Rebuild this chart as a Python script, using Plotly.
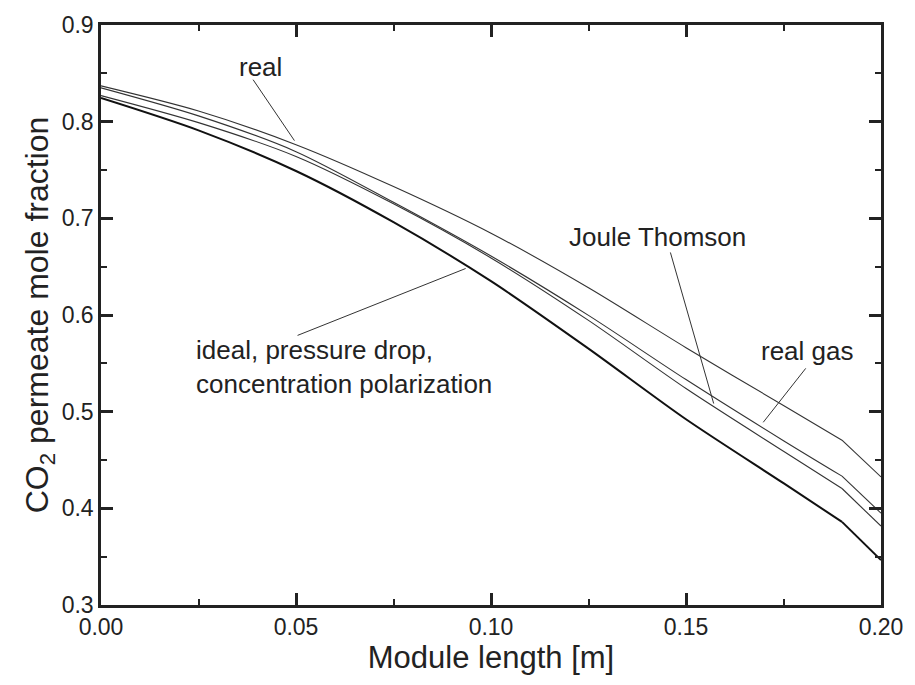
import plotly.graph_objects as go

# Module length [m]
x_len = [0.0, 0.025, 0.05, 0.075, 0.10, 0.125, 0.15, 0.175, 0.19, 0.20]

# CO2 permeate mole fraction
y_real = [0.837, 0.811, 0.7762, 0.7329, 0.6846, 0.6282, 0.5662, 0.5064, 0.4705, 0.4325]
y_real_gas = [0.835, 0.806, 0.769, 0.7166, 0.661, 0.5996, 0.5332, 0.470, 0.4333, 0.395]
y_joule = [0.827, 0.799, 0.764, 0.715, 0.659, 0.5944, 0.5239, 0.459, 0.4205, 0.3816]
y_ideal = [0.8245, 0.791, 0.749, 0.696, 0.635, 0.5652, 0.4921, 0.426, 0.386, 0.3465]

x_ticks = [0.0, 0.05, 0.10, 0.15, 0.20]
x_tick_text = ["0.00", "0.05", "0.10", "0.15", "0.20"]
y_ticks = [0.3, 0.4, 0.5, 0.6, 0.7, 0.8, 0.9]
y_tick_text = ["0.3", "0.4", "0.5", "0.6", "0.7", "0.8", "0.9"]

KINK = 8  # index of the sharp bend near the module outlet

FONT = "Liberation Sans, Arial, sans-serif"
INK = "#222222"

fig = go.Figure()
for ys, w, c in [(y_real, 1.1, "#333333"), (y_real_gas, 1.1, "#333333"),
                 (y_joule, 1.1, "#333333"), (y_ideal, 2.0, "#111111")]:
    # smooth body up to the bend, straight segment after it
    fig.add_trace(go.Scatter(x=x_len[:KINK + 1], y=ys[:KINK + 1], mode="lines",
                             line=dict(color=c, width=w, shape="spline", smoothing=0.8),
                             showlegend=False, hoverinfo="skip"))
    fig.add_trace(go.Scatter(x=x_len[KINK:], y=ys[KINK:], mode="lines",
                             line=dict(color=c, width=w),
                             showlegend=False, hoverinfo="skip"))

labels = [
    dict(text="real", x=0.0408, y=0.8568, xanchor="center"),
    dict(text="Joule Thomson", x=0.1427, y=0.6812, xanchor="center"),
    dict(text="real gas", x=0.1688, y=0.5624, xanchor="left"),
    dict(text="ideal, pressure drop,<br>concentration polarization", x=0.0238,
         y=0.5459, xanchor="left", align="left"),
]
for a in labels:
    fig.add_annotation(showarrow=False, xref="x", yref="y", yanchor="middle",
                       font=dict(family=FONT, size=26, color=INK), **a)

pointers = [
    ((0.0390, 0.8434), (0.0496, 0.7804)),
    ((0.1460, 0.6647), (0.1571, 0.5084)),
    ((0.1807, 0.5448), (0.1698, 0.4890)),
    ((0.0504, 0.5789), (0.0935, 0.6481)),
]
for (x0, y0), (x1, y1) in pointers:
    fig.add_shape(type="line", xref="x", yref="y", x0=x0, y0=y0, x1=x1, y1=y1,
                  line=dict(color="#333333", width=1))

axis_common = dict(showline=True, linewidth=2.5, linecolor=INK, mirror="ticks",
                   ticks="inside", ticklen=12, tickwidth=2.5, tickcolor=INK,
                   showgrid=False, zeroline=False,
                   tickfont=dict(family=FONT, size=23, color=INK))

fig.update_xaxes(range=[0, 0.2], tickvals=x_ticks, ticktext=x_tick_text,
                 minor=dict(ticks="inside", ticklen=6, tickwidth=2, dtick=0.025,
                            tickcolor=INK, showgrid=False),
                 title=dict(text="Module length [m]",
                            font=dict(family=FONT, size=31, color=INK), standoff=6),
                 **axis_common)
fig.update_yaxes(range=[0.3, 0.9], tickvals=y_ticks, ticktext=y_tick_text,
                 minor=dict(ticks="inside", ticklen=6, tickwidth=2, dtick=0.05,
                            tickcolor=INK, showgrid=False),
                 title=dict(text="CO<sub>2</sub> permeate mole fraction",
                            font=dict(family=FONT, size=32, color=INK), standoff=4),
                 **axis_common)

fig.update_layout(width=915, height=685, plot_bgcolor="white", paper_bgcolor="white",
                  margin=dict(l=101, r=25, t=24, b=80))

fig.write_html("out.html")
